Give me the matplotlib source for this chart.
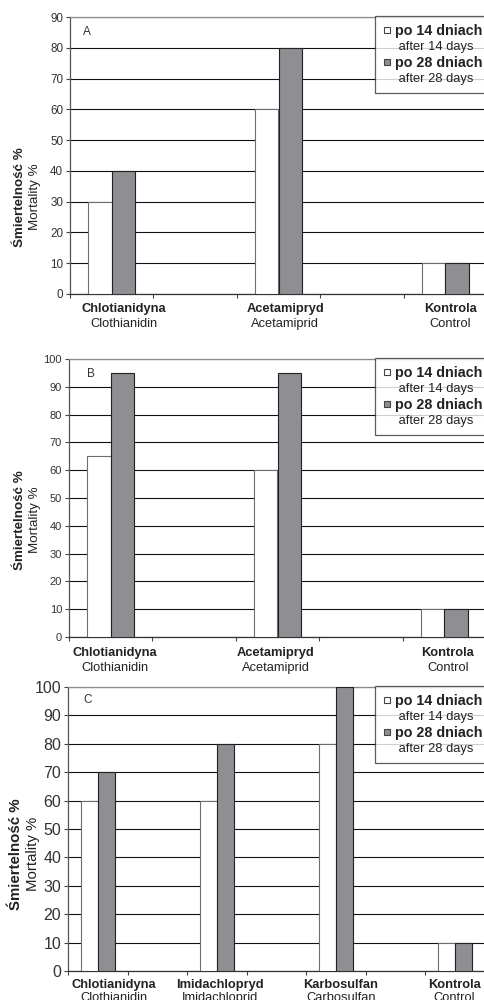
import numpy as np
import matplotlib
matplotlib.use("Agg")
import matplotlib.pyplot as plt
from matplotlib.lines import Line2D

plt.rcParams['font.family'] = ['Liberation Sans', 'DejaVu Sans']

# data (mortality %)
cats_ab = ["Chlotianidyna", "Acetamipryd", "Kontrola"]
cats_ab_en = ["Clothianidin", "Acetamiprid", "Control"]
a_14 = [30, 60, 10]
a_28 = [40, 80, 10]
b_14 = [65, 60, 10]
b_28 = [95, 95, 10]

cats_c = ["Chlotianidyna", "Imidachlopryd", "Karbosulfan", "Kontrola"]
cats_c_en = ["Clothianidin", "Imidachloprid", "Carbosulfan", "Control"]
c_14 = [60, 60, 80, 10]
c_28 = [70, 80, 100, 10]

W, H = 485, 1000
fig = plt.figure(figsize=(W / 100, H / 100), dpi=100)

grey = "#8e8e93"

# panel layout in pixels: left, right, top, bottom
panels = [
    dict(letter="A", px=(70, 487, 17, 294), ymax=90, d14=a_14, d28=a_28, cats=cats_ab, en=cats_ab_en,
         nslots=5, bw=0.28, tick_fs=8.4, lab_x=[0.15, 2.08, 4.06], lab_dy=(15, 30),
         letter_pos=(0.031, 0.946), ylab_y=197, ylab_x=(20, 35), ylab_fs=9.6),
    dict(letter="B", px=(69, 486, 359, 637), ymax=100, d14=b_14, d28=b_28, cats=cats_ab, en=cats_ab_en,
         nslots=5, bw=0.28, tick_fs=8.0, lab_x=[0.05, 1.98, 4.04], lab_dy=(16, 31),
         letter_pos=(0.043, 0.946), ylab_y=520, ylab_x=(20, 35), ylab_fs=9.6),
    dict(letter="C", px=(68, 485, 687, 971), ymax=100, d14=c_14, d28=c_28, cats=cats_c, en=cats_c_en,
         nslots=7, bw=0.285, tick_fs=11.5, lab_x=[0.27, 2.05, 4.08, 5.98], lab_dy=(14, 27),
         letter_pos=(0.036, 0.954), ylab_y=854, ylab_x=(16, 33), ylab_fs=10.8),
]

for p in panels:
    l, r, t, b = p["px"]
    ax = fig.add_axes([l / W, 1 - b / H, (r - l) / W, (b - t) / H])
    n = len(p["d14"])
    x = 2 * np.arange(n)
    bw = p["bw"]
    ax.bar(x - bw / 2, p["d14"], bw, color="white", edgecolor="#6e6e6e", linewidth=0.8, zorder=3)
    ax.bar(x + bw / 2, p["d28"], bw, color=grey, edgecolor="#222222", linewidth=0.8, zorder=3)

    ax.set_xticks(np.arange(-0.5, p["nslots"], 1.0))
    ax.set_xticklabels([])
    ax.set_xlim(-0.5, p["nslots"] - 0.5)
    ax.set_ylim(0, p["ymax"])
    ax.set_yticks(np.arange(0, p["ymax"] + 1, 10))
    ax.set_axisbelow(True)
    ax.yaxis.grid(True, color="#111111", linewidth=0.8)
    ax.tick_params(axis="y", direction="out", length=3, width=0.8, color="#444444",
                   labelsize=p["tick_fs"], labelcolor="#333333", pad=2)
    ax.tick_params(axis="x", direction="out", length=3, width=0.8, color="#444444")
    ax.spines["right"].set_visible(False)
    ax.spines["top"].set_color("#8a8a8a")
    ax.spines["left"].set_color("#555555")
    ax.spines["bottom"].set_color("#333333")
    for s in ax.spines.values():
        s.set_linewidth(0.9)

    # category labels (bold Polish + regular English)
    for xi, pl, en in zip(p["lab_x"], p["cats"], p["en"]):
        ax.annotate(pl, xy=(xi, 0), xycoords=("data", "axes fraction"), xytext=(0, -p["lab_dy"][0]),
                    textcoords="offset pixels", ha="center", va="center", fontsize=9.3,
                    fontweight="bold", color="#222222", annotation_clip=False)
        ax.annotate(en, xy=(xi, 0), xycoords=("data", "axes fraction"), xytext=(0, -p["lab_dy"][1]),
                    textcoords="offset pixels", ha="center", va="center", fontsize=9.3,
                    color="#222222", annotation_clip=False)

    ax.text(p["letter_pos"][0], p["letter_pos"][1], p["letter"], transform=ax.transAxes,
            fontsize=8.5, color="#333333", ha="left", va="center")

    fig.text(p["ylab_x"][0] / W, 1 - p["ylab_y"] / H, "Śmiertelność %", rotation=90,
             fontweight="bold", fontsize=p["ylab_fs"], ha="center", va="center", color="#222222")
    fig.text(p["ylab_x"][1] / W, 1 - p["ylab_y"] / H, "Mortality %", rotation=90,
             fontsize=p["ylab_fs"], ha="center", va="center", color="#222222")

    handles = [
        Line2D([], [], marker="s", markersize=4.2, markerfacecolor="white", markeredgecolor="#444444",
               markeredgewidth=0.8, linestyle="none"),
        Line2D([], [], linestyle="none"),
        Line2D([], [], marker="s", markersize=4.2, markerfacecolor=grey, markeredgecolor="#444444",
               markeredgewidth=0.8, linestyle="none"),
        Line2D([], [], linestyle="none"),
    ]
    labels = ["po 14 dniach", " after 14 days", "po 28 dniach", " after 28 days"]
    leg = ax.legend(handles, labels, loc="upper left", bbox_to_anchor=(375 / W, 1 - (t - 1) / H),
                    bbox_transform=fig.transFigure, borderaxespad=0, fontsize=9.3, frameon=True,
                    fancybox=False, edgecolor="#333333", handlelength=0.6, handletextpad=0.35,
                    labelspacing=0.24, borderpad=0.6)
    leg.get_frame().set_linewidth(0.9)
    leg.set_zorder(5)
    for i, txt in enumerate(leg.get_texts()):
        txt.set_color("#222222")
        if i % 2 == 0:
            txt.set_fontweight("bold")
            txt.set_fontsize(10.3)

fig.savefig("out.png", dpi=100)
